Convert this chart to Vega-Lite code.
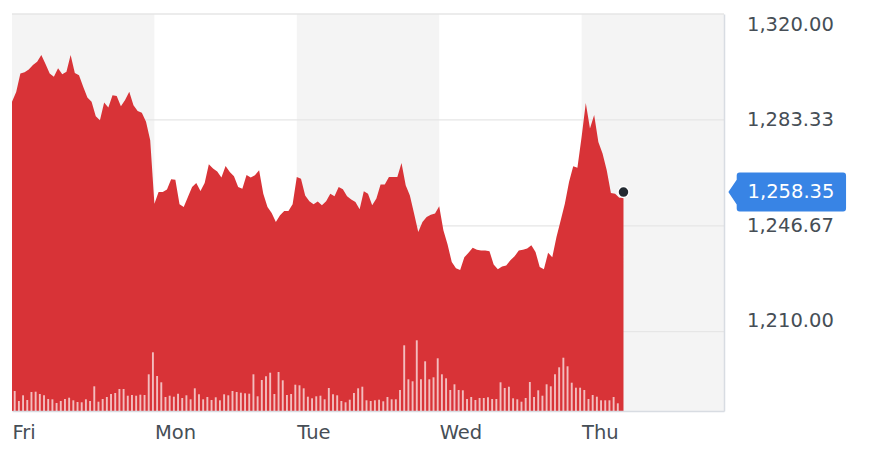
{
  "$schema": "https://vega.github.io/schema/vega-lite/v6.json",
  "width": 712,
  "height": 397,
  "autosize": {"type": "none"},
  "padding": {"left": 12, "top": 14, "right": 146, "bottom": 59},
  "background": "#ffffff",
  "config": {"view": {"stroke": null}, "font": "DejaVu Sans"},
  "datasets": {
    "days": [
      {"day": "Fri", "start": 0, "end": 34, "shade": 1},
      {"day": "Tue", "start": 68, "end": 102, "shade": 1},
      {"day": "Thu", "start": 136, "end": 170, "shade": 1}
    ],
    "grid": [{"level": 1210}, {"level": 1246.67}, {"level": 1283.33}, {"level": 1320}],
    "last": [{"i": 146, "price": 1258.35}],
    "series": [
      {"i":0,"price":1289.6,"vol":20},{"i":1,"price":1293.0,"vol":10},{"i":2,"price":1299.4,"vol":15.7},{"i":3,"price":1299.8,"vol":11},{"i":4,"price":1300.8,"vol":19},
      {"i":5,"price":1302.3,"vol":19.3},{"i":6,"price":1303.5,"vol":17},{"i":7,"price":1305.8,"vol":15.7},{"i":8,"price":1302.7,"vol":12},{"i":9,"price":1299.4,"vol":11.7},
      {"i":10,"price":1298.3,"vol":8},{"i":11,"price":1301.2,"vol":10},{"i":12,"price":1299.1,"vol":12},{"i":13,"price":1300.0,"vol":13.3},{"i":14,"price":1305.8,"vol":10.7},
      {"i":15,"price":1299.6,"vol":9},{"i":16,"price":1298.8,"vol":8.7},{"i":17,"price":1294.8,"vol":11.7},{"i":18,"price":1291.1,"vol":10},{"i":19,"price":1289.6,"vol":24.7},
      {"i":20,"price":1284.6,"vol":9.3},{"i":21,"price":1283.2,"vol":12},{"i":22,"price":1289.4,"vol":14},{"i":23,"price":1287.6,"vol":17},{"i":24,"price":1291.9,"vol":18},
      {"i":25,"price":1291.6,"vol":22},{"i":26,"price":1288.1,"vol":22},{"i":27,"price":1290.2,"vol":15.3},{"i":28,"price":1293.1,"vol":16},{"i":29,"price":1288.4,"vol":15.3},
      {"i":30,"price":1286.4,"vol":16.3},{"i":31,"price":1285.8,"vol":16},{"i":32,"price":1282.7,"vol":36.7},{"i":33,"price":1276.3,"vol":58.7},{"i":34,"price":1254.3,"vol":35},
      {"i":35,"price":1258.4,"vol":28.7},{"i":36,"price":1258.4,"vol":14},{"i":37,"price":1259.2,"vol":15.3},{"i":38,"price":1262.8,"vol":14.3},{"i":39,"price":1262.6,"vol":17.3},
      {"i":40,"price":1254.1,"vol":13},{"i":41,"price":1253.2,"vol":15.7},{"i":42,"price":1256.6,"vol":11.7},{"i":43,"price":1260.1,"vol":22.7},{"i":44,"price":1261.5,"vol":16.7},
      {"i":45,"price":1258.7,"vol":11.7},{"i":46,"price":1261.5,"vol":14},{"i":47,"price":1268.0,"vol":11},{"i":48,"price":1266.5,"vol":13.7},{"i":49,"price":1265.5,"vol":10.7},
      {"i":50,"price":1263.4,"vol":16.7},{"i":51,"price":1267.4,"vol":15.7},{"i":52,"price":1265.3,"vol":20},{"i":53,"price":1263.8,"vol":19},{"i":54,"price":1260.1,"vol":18.3},
      {"i":55,"price":1259.5,"vol":17.7},{"i":56,"price":1264.3,"vol":17.3},{"i":57,"price":1263.4,"vol":36.7},{"i":58,"price":1264.2,"vol":14.7},{"i":59,"price":1265.9,"vol":31},
      {"i":60,"price":1257.8,"vol":34.7},{"i":61,"price":1253.2,"vol":38.3},{"i":62,"price":1251.1,"vol":17},{"i":63,"price":1248.0,"vol":39},{"i":64,"price":1250.3,"vol":30.7},
      {"i":65,"price":1251.8,"vol":16},{"i":66,"price":1251.8,"vol":17},{"i":67,"price":1254.1,"vol":26.3},{"i":68,"price":1263.6,"vol":25.7},{"i":69,"price":1263.0,"vol":22.7},
      {"i":70,"price":1257.2,"vol":14.3},{"i":71,"price":1255.2,"vol":12.7},{"i":72,"price":1254.1,"vol":14.7},{"i":73,"price":1255.1,"vol":15.3},{"i":74,"price":1253.8,"vol":11.7},
      {"i":75,"price":1255.2,"vol":23},{"i":76,"price":1257.8,"vol":16.7},{"i":77,"price":1256.9,"vol":15.7},{"i":78,"price":1260.1,"vol":10},{"i":79,"price":1259.3,"vol":8.7},
      {"i":80,"price":1256.9,"vol":11.3},{"i":81,"price":1255.8,"vol":18},{"i":82,"price":1254.9,"vol":22.7},{"i":83,"price":1252.4,"vol":24.3},{"i":84,"price":1258.6,"vol":10.7},
      {"i":85,"price":1257.8,"vol":10},{"i":86,"price":1253.8,"vol":10.7},{"i":87,"price":1256.1,"vol":11.3},{"i":88,"price":1261.0,"vol":9.7},{"i":89,"price":1261.0,"vol":14},
      {"i":90,"price":1263.6,"vol":11.7},{"i":91,"price":1263.6,"vol":11.7},{"i":92,"price":1263.6,"vol":21},{"i":93,"price":1268.4,"vol":65.7},{"i":94,"price":1260.7,"vol":31.7},
      {"i":95,"price":1257.2,"vol":29.7},{"i":96,"price":1250.9,"vol":70.7},{"i":97,"price":1244.5,"vol":31.7},{"i":98,"price":1248.0,"vol":49.7},{"i":99,"price":1249.7,"vol":31.7},
      {"i":100,"price":1250.5,"vol":33.7},{"i":101,"price":1250.9,"vol":52.7},{"i":102,"price":1253.4,"vol":36.7},{"i":103,"price":1245.1,"vol":32.7},{"i":104,"price":1240.2,"vol":21},
      {"i":105,"price":1234.1,"vol":26.7},{"i":106,"price":1232.0,"vol":21},{"i":107,"price":1231.4,"vol":20.7},{"i":108,"price":1235.8,"vol":12},{"i":109,"price":1237.3,"vol":14},
      {"i":110,"price":1239.1,"vol":11},{"i":111,"price":1238.4,"vol":13},{"i":112,"price":1238.1,"vol":13},{"i":113,"price":1238.1,"vol":13.7},{"i":114,"price":1237.9,"vol":12},
      {"i":115,"price":1233.3,"vol":12},{"i":116,"price":1231.6,"vol":28.7},{"i":117,"price":1232.6,"vol":23},{"i":118,"price":1232.9,"vol":24.3},{"i":119,"price":1234.7,"vol":12.7},
      {"i":120,"price":1236.1,"vol":11.7},{"i":121,"price":1238.1,"vol":9.3},{"i":122,"price":1238.4,"vol":13},{"i":123,"price":1238.8,"vol":29},{"i":124,"price":1239.9,"vol":14},
      {"i":125,"price":1237.6,"vol":20.7},{"i":126,"price":1232.4,"vol":15.3},{"i":127,"price":1231.6,"vol":26.7},{"i":128,"price":1237.3,"vol":24.7},{"i":129,"price":1235.8,"vol":36.7},
      {"i":130,"price":1242.8,"vol":43.7},{"i":131,"price":1248.5,"vol":53.3},{"i":132,"price":1254.3,"vol":44.7},{"i":133,"price":1261.8,"vol":28.3},{"i":134,"price":1267.3,"vol":23.3},
      {"i":135,"price":1266.8,"vol":23.3},{"i":136,"price":1277.4,"vol":21},{"i":137,"price":1289.2,"vol":12},{"i":138,"price":1280.4,"vol":16},{"i":139,"price":1285.0,"vol":14.3},
      {"i":140,"price":1275.7,"vol":10.7},{"i":141,"price":1271.7,"vol":10.7},{"i":142,"price":1265.9,"vol":10.7},{"i":143,"price":1258.0,"vol":14},{"i":144,"price":1257.8,"vol":7.7},
      {"i":145,"price":1256.4},{"i":146,"price":1256.6}
    ]
  },
  "resolve": {"scale": {"y": "independent"}},
  "layer": [
    {
      "data": {"name": "days"},
      "mark": {"type": "rect", "fill": "#f4f4f4"},
      "encoding": {
        "x": {"field": "start", "type": "quantitative", "scale": {"domain": [0, 170], "nice": false, "zero": false, "padding": 0},
          "axis": {"values": [0, 34, 68, 102, 136], "labelExpr": "['Fri','Mon','Tue','Wed','Thu'][round(datum.value/34)]", "title": null,
            "orient": "bottom", "grid": false, "ticks": false, "tickSize": 0, "labelAlign": "left", "labelBaseline": "top", "labelPadding": 12,
            "labelFont": "DejaVu Sans", "labelFontSize": 19.5, "labelColor": "#464e56", "labelFlush": false,
            "domain": true, "domainColor": "#d8dce2", "domainWidth": 1.5, "zindex": 1}},
        "x2": {"field": "end"}
      }
    },
    {
      "data": {"name": "grid"},
      "mark": {"type": "rule", "stroke": "#e6e6e6", "strokeWidth": 1.3},
      "encoding": {
        "y": {"field": "level", "type": "quantitative", "scale": {"domain": [1182.55, 1320], "nice": false, "zero": false}, "axis": null}
      }
    },
    {
      "data": {"name": "series"},
      "mark": {"type": "area", "color": "#d83337", "interpolate": "linear", "clip": true},
      "encoding": {
        "x": {"field": "i", "type": "quantitative"},
        "y": {"field": "price", "type": "quantitative", "scale": {"domain": [1182.55, 1320], "nice": false, "zero": false},
          "axis": {"orient": "right", "values": [1210, 1246.67, 1283.33, 1320], "format": ",.2f", "title": null, "grid": false,
            "ticks": false, "tickSize": 0, "labelPadding": 22.5, "labelAlign": "left", "labelBaseline": "middle",
            "labelFont": "DejaVu Sans", "labelFontSize": 19.5, "labelColor": "#464e56",
            "labelOffset": {"condition": [{"test": "datum.value == 1320", "value": 10.5}, {"test": "datum.value == 1210", "value": -11.5}], "value": 0},
            "domain": true, "domainColor": "#d8dce2", "domainWidth": 1.5, "zindex": 1}}
      }
    },
    {
      "data": {"name": "series"},
      "mark": {"type": "bar", "color": "#ffffff", "opacity": 0.68, "size": 1.9, "xOffset": 2.7},
      "encoding": {
        "x": {"field": "i", "type": "quantitative"},
        "y": {"field": "vol", "type": "quantitative", "scale": {"domain": [0, 397], "nice": false}, "axis": null}
      }
    },
    {
      "data": {"name": "last"},
      "mark": {"type": "point", "filled": true, "fill": "#232a31", "stroke": "#ffffff", "strokeWidth": 1.5, "size": 121, "opacity": 1},
      "encoding": {
        "x": {"field": "i", "type": "quantitative"},
        "y": {"field": "price", "type": "quantitative", "scale": {"domain": [1182.55, 1320], "nice": false, "zero": false}, "axis": null}
      }
    },
    {
      "data": {"name": "last"},
      "mark": {"type": "point", "filled": true, "fill": "#3884e5", "strokeWidth": 0, "opacity": 1, "size": 13853, "xOffset": 63.2, "clip": false,
        "shape": "M -1 0 L -0.858 -0.21 L -0.858 -0.281 Q -0.858 -0.331 -0.808 -0.331 L 0.95 -0.331 Q 1 -0.331 1 -0.281 L 1 0.281 Q 1 0.331 0.95 0.331 L -0.808 0.331 Q -0.858 0.331 -0.858 0.281 L -0.858 0.21 Z"},
      "encoding": {
        "x": {"datum": 170, "type": "quantitative"},
        "y": {"field": "price", "type": "quantitative", "scale": {"domain": [1182.55, 1320], "nice": false, "zero": false}, "axis": null}
      }
    },
    {
      "data": {"name": "last"},
      "mark": {"type": "text", "color": "#ffffff", "font": "DejaVu Sans", "fontSize": 19.5, "align": "center", "baseline": "middle", "dx": 67, "clip": false},
      "encoding": {
        "x": {"datum": 170, "type": "quantitative"},
        "y": {"field": "price", "type": "quantitative", "scale": {"domain": [1182.55, 1320], "nice": false, "zero": false}, "axis": null},
        "text": {"field": "price", "type": "quantitative", "format": ",.2f"}
      }
    }
  ]
}
